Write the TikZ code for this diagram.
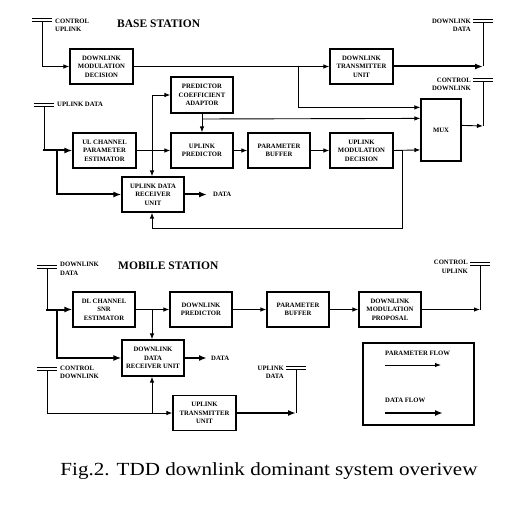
\documentclass[tikz,border=0pt]{standalone}
\usepackage{fontspec}
\setmainfont{Liberation Serif}
\usetikzlibrary{arrows.meta,calc}
\tikzset{
  blk/.style={draw, line width=1.2pt, minimum width=63pt, minimum height=35pt, align=center,
    font=\fontsize{6.7}{8.6}\selectfont\bfseries, inner sep=1pt},
  lbl/.style={font=\fontsize{6.7}{8.6}\selectfont\bfseries, inner sep=0pt},
  title/.style={font=\fontsize{11.5}{13}\selectfont\bfseries, inner sep=0pt},
  pline/.style={line width=0.9pt},
  pflow/.style={line width=0.9pt, -{Latex[length=6pt,width=4.5pt]}},
  dflow/.style={line width=2pt, line join=miter, -{Latex[length=8pt,width=6pt]}},
}
\newcommand\antennaat[3]{%
  \coordinate (#1) at (#2,#3);
  \draw[line width=0.9pt] ($(#1)+(-10,-2.8)$) -- ($(#1)+(10,-2.8)$);
  \draw[line width=0.9pt] ($(#1)+(-10,0)$) -- ($(#1)+(10,0)$);
}
\begin{document}
\begin{tikzpicture}[x=1pt,y=-1pt]
\useasboundingbox[fill=white] (0,0) rectangle (505,521);

% ---------------- BASE STATION ----------------
\node[title, anchor=west] (bstitle) at (117,24) {BASE STATION};

\node[blk] (dmd) at (101.5,66.5) {DOWNLINK\\MODULATION\\DECISION};
\node[blk] (dtu) at (361.5,66.5) {DOWNLINK\\TRANSMITTER\\UNIT};
\node[blk, minimum width=62pt, minimum height=36pt] (pca) at (202,95) {PREDICTOR\\COEFFICIENT\\ADAPTOR};
\node[blk] (ulce) at (104.5,150.5) {UL CHANNEL\\PARAMETER\\ESTIMATOR};
\node[blk, minimum width=62pt] (up) at (202,150.5) {UPLINK\\PREDICTOR};
\node[blk, minimum width=62pt] (pb) at (279,150.5) {PARAMETER\\BUFFER};
\node[blk] (umd) at (361.5,150.5) {UPLINK\\MODULATION\\DECISION};
\node[blk, minimum width=40pt, minimum height=62pt] (mux) at (441,130) {MUX};
\node[blk, minimum width=62pt] (udru) at (153,194.5) {UPLINK DATA\\RECEIVER\\UNIT};

\antennaat{cu}{42}{21.5}
\node[lbl, anchor=north west, align=left] (cutxt) at (55,18.5) {CONTROL\\UPLINK};
\antennaat{dd}{483}{22}
\node[lbl, anchor=north east, align=right] (ddtxt) at (471,18.5) {DOWNLINK\\DATA};
\antennaat{cd}{483}{81.5}
\node[lbl, anchor=north east, align=right] (cdtxt) at (471,77.5) {CONTROL\\DOWNLINK};
\antennaat{ud}{44}{106}
\node[lbl, anchor=west] (udtxt) at (57,104.5) {UPLINK DATA};

\path (mux.north west) ++(0,9) coordinate (m1);
\path (mux.north west) ++(0,20) coordinate (m2);
\path (mux.north west) ++(0,51.5) coordinate (m3);
\path (mux.north east) ++(0,27) coordinate (mo);

\draw[pflow] (cu) |- (dmd.west);
\draw[pflow] (dmd.east) -- (dtu.west);
\coordinate (j1) at (298,66.5);
\draw[pflow] (j1) |- (m1);
\coordinate (ddc) at (483,66.5);
\draw[dflow] (dtu.east) -- (ddc);
\draw[pline] (ddc) -- (dd);
\coordinate (cdc) at (483,126);
\draw[pflow] (mo) -- (cdc);
\draw[pline] (cdc) -- (cd);

\draw[pflow] (pca.south) -- (up.north);
\coordinate (j2) at (202,119);
\draw[pflow] (j2) -- (m2);

\coordinate (k1) at (44,150.5);
\coordinate (k2) at (57,150.5);
\draw[pline] (ud) -- (k1);
\draw[dflow] ([xshift=-1pt]k1) -- (ulce.west);
\draw[dflow] (k2) |- (udru.west);

\draw[pflow] (ulce.east) -- (up.west);
\coordinate (j3) at (152,150.5);
\draw[pflow] (j3) |- (pca.west);
\draw[pflow] (j3) -- (j3 |- udru.north);
\draw[pflow] (up.east) -- (pb.west);
\draw[pflow] (pb.east) -- (umd.west);
\draw[pflow] (umd.east) -- (m3);
\coordinate (j4) at (402,150.5);
\coordinate (fb) at (152,228);
\draw[pflow] (j4) |- (fb) -- (fb |- udru.south);

\coordinate (do1) at (207,194.5);
\draw[dflow] (udru.east) -- (do1);
\node[lbl, anchor=west] (data1) at (213,194.5) {DATA};

% ---------------- MOBILE STATION ----------------
\node[title, anchor=west] (mstitle) at (118,266) {MOBILE STATION};

\node[blk, minimum width=62pt] (dlce) at (104,309.5) {DL CHANNEL\\SNR\\ESTIMATOR};
\node[blk, minimum width=62pt] (dp) at (201,309.5) {DOWNLINK\\PREDICTOR};
\node[blk, minimum width=62pt] (pb2) at (298,309.5) {PARAMETER\\BUFFER};
\node[blk, minimum width=62pt] (dmp) at (390,309.5) {DOWNLINK\\MODULATION\\PROPOSAL};
\node[blk, minimum width=62pt, minimum height=36pt] (ddru) at (153,358) {DOWNLINK\\DATA\\RECEIVER UNIT};
\node[blk, minimum width=63pt] (utu) at (204.5,413) {UPLINK\\TRANSMITTER\\UNIT};

\antennaat{dl}{47}{268}
\node[lbl, anchor=north west, align=left] (dltxt) at (60,262) {DOWNLINK\\DATA};
\antennaat{cd2}{47}{370}
\node[lbl, anchor=north west, align=left] (cd2txt) at (60,365.5) {CONTROL\\DOWNLINK};
\antennaat{ud2}{296}{369}
\node[lbl, anchor=north east, align=right] (ud2txt) at (284,365.5) {UPLINK\\DATA};
\antennaat{cu2}{480}{265}
\node[lbl, anchor=north east, align=right] (cu2txt) at (468,260) {CONTROL\\UPLINK};

\coordinate (k3) at (47,309.5);
\coordinate (k4) at (57,309.5);
\draw[pline] (dl) -- (k3);
\draw[dflow] ([xshift=-1pt]k3) -- (dlce.west);
\draw[dflow] (k4) |- (ddru.west);

\draw[pflow] (dlce.east) -- (dp.west);
\coordinate (j5) at (152,309.5);
\draw[pflow] (j5) -- (j5 |- ddru.north);
\draw[pflow] (dp.east) -- (pb2.west);
\draw[pflow] (pb2.east) -- (dmp.west);
\coordinate (cu2c) at (480,309.5);
\draw[pflow] (dmp.east) -- (cu2c);
\draw[pline] (cu2c) -- (cu2);

\coordinate (do2) at (207,358);
\draw[dflow] (ddru.east) -- (do2);
\node[lbl, anchor=west] (data2) at (211,358) {DATA};

\draw[pflow] (cd2) |- (utu.west);
\coordinate (j6) at (152,413);
\draw[pflow] (j6) -- (j6 |- ddru.south);
\coordinate (ud2c) at (296,413);
\draw[dflow] (utu.east) -- (ud2c);
\draw[pline] (ud2c) -- (ud2);

% legend
\node[draw, line width=1.2pt, minimum width=111pt, minimum height=82pt] (legend) at (418.5,384) {};
\node[lbl, anchor=west] (pftxt) at (385,353) {PARAMETER FLOW};
\coordinate (pfa) at (385,365);
\coordinate (pfb) at (441,365);
\draw[pflow] (pfa) -- (pfb);
\node[lbl, anchor=west] (dftxt) at (385,400) {DATA FLOW};
\coordinate (dfa) at (385,413);
\coordinate (dfb) at (443,413);
\draw[dflow] (dfa) -- (dfb);

% caption
\node[inner sep=0pt, font=\fontsize{18.5}{20}\selectfont] (cap) at (269,471) {\scalebox{1.14}[1]{Fig.2. TDD downlink dominant system overivew}};
\end{tikzpicture}
\end{document}
